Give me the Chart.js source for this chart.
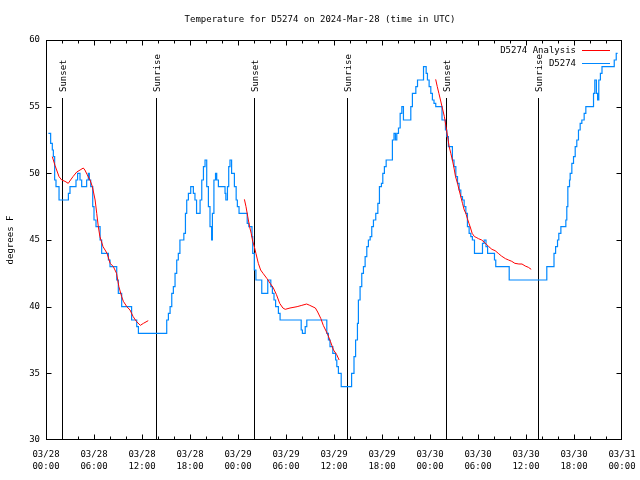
<!DOCTYPE html>
<html><head><meta charset="utf-8">
<script src="https://cdn.jsdelivr.net/npm/chart.js@4/dist/chart.umd.min.js"></script>
<style>html,body{margin:0;padding:0;background:#fff}canvas{display:block}</style>
</head><body>
<canvas id="c" width="640" height="480"></canvas>
<script>
const chartTitle = 'Temperature for D5274 on 2024-Mar-28 (time in UTC)';
const yAxisLabel = 'degrees F';
const seriesNames = ['D5274 Analysis', 'D5274'];
const seriesColors = ['#ff0000', '#0088ff'];
const xTickDates = ['03/28','03/28','03/28','03/28','03/29','03/29','03/29','03/29','03/30','03/30','03/30','03/30','03/31'];
const xTickTimes = ['00:00','06:00','12:00','18:00','00:00','06:00','12:00','18:00','00:00','06:00','12:00','18:00','00:00'];
const sunsetHours = [2.04, 26.04, 50.04];
const sunriseHours = [13.7, 37.6, 61.5];

// analysis curve (hours since 03/28 00:00 UTC), null = break
const analysisHours = [0.79,1.12,1.33,1.63,1.96,2.38,2.78,3.07,3.37,3.84,4.26,4.66,4.86,5.15,5.5,5.8,6.14,6.34,6.54,6.74,7.13,7.63,8.02,8.42,8.82,9.11,9.46,9.67,10.1,10.5,10.9,11.29,11.79,12.18,12.78,
  18.0,
  24.8,25.0,25.22,25.45,25.65,25.84,26.04,26.24,26.54,26.83,27.13,27.63,28.02,28.42,28.81,29.21,29.61,29.9,30.5,31.39,31.98,32.58,32.97,33.67,33.96,34.36,34.66,35.15,35.55,35.94,36.34,36.64,
  42.0,
  48.71,48.91,49.11,49.31,49.6,49.8,50.0,50.2,50.4,50.6,50.8,51.0,51.19,51.44,51.64,51.85,52.06,52.28,52.48,52.67,52.87,53.07,53.27,53.56,53.76,54.06,54.46,54.85,55.35,55.74,56.14,56.53,56.93,57.43,57.82,58.22,58.61,59.11,59.5,59.9,60.3,60.65];
const analysisTemps = [51.25,50.6,50.25,49.75,49.5,49.4,49.25,49.5,49.75,50.1,50.25,50.4,50.25,49.9,49.5,49.0,48.0,47.0,46.0,45.25,44.5,44.0,43.25,43.0,42.5,41.5,40.75,40.4,40.0,39.75,39.25,38.9,38.6,38.75,38.95,
  null,
  48.05,47.5,46.75,46.0,45.5,44.9,44.5,44.0,43.25,42.75,42.5,42.1,41.75,41.4,40.9,40.25,39.9,39.8,39.9,40.0,40.1,40.2,40.1,39.9,39.6,39.1,38.6,38.0,37.4,36.75,36.4,36.0,
  null,
  57.05,56.5,56.0,55.5,54.75,54.25,53.5,52.75,52.0,51.5,51.0,50.4,49.75,49.25,48.75,48.25,47.75,47.25,47.0,46.6,46.25,45.9,45.5,45.25,45.2,45.1,45.0,44.8,44.5,44.3,44.2,44.0,43.8,43.6,43.5,43.4,43.25,43.2,43.2,43.05,42.95,42.8];

// station observations
const obsHours = [0.3,0.58,0.79,0.92,1.08,1.25,1.63,2.8,3.0,3.75,3.95,4.25,4.46,5.08,5.29,5.42,5.59,5.84,6.0,6.25,6.76,6.96,7.8,8.0,8.84,9.04,9.46,10.7,11.34,11.55,
  15.09,15.3,15.51,15.72,15.92,16.13,16.34,16.54,16.74,17.23,17.43,17.59,17.8,18.09,18.42,18.62,18.82,19.26,19.47,19.68,19.88,20.09,20.3,20.5,20.7,20.8,20.99,21.19,21.34,21.55,22.38,22.48,22.68,22.84,23.0,23.2,23.55,23.77,23.92,24.13,
  25.15,25.35,25.75,25.84,26.04,26.24,26.97,27.72,28.1,28.3,28.5,28.7,29.05,29.26,31.9,32.05,32.4,32.6,35.1,35.3,35.5,35.85,36.2,36.35,36.55,36.9,
  38.2,38.5,38.7,38.93,39.05,39.26,39.47,39.68,39.89,40.1,40.3,40.52,40.72,40.93,41.22,41.48,41.68,41.93,42.1,42.3,42.52,43.3,43.5,43.68,43.85,44.06,44.27,44.48,44.68,45.6,45.8,46.23,46.44,47.19,47.52,47.68,47.89,48.1,48.3,48.5,48.72,49.5,49.93,50.1,50.3,50.8,51.0,51.23,51.44,51.64,51.85,52.06,52.27,52.48,52.68,52.89,53.1,53.3,53.56,54.56,54.77,55.0,55.2,56.06,56.22,57.9,
  62.6,63.5,63.7,63.94,64.1,64.36,64.98,65.1,65.23,65.44,65.52,65.73,65.94,66.15,66.35,66.56,66.77,66.98,67.27,67.48,68.44,68.6,68.8,68.95,69.1,69.3,69.5,71.03,71.28,71.45];
const obsTemps = [53.0,52.25,51.75,51.25,49.5,49.0,48.0,48.5,49.0,49.5,50.0,49.5,49.0,49.5,50.0,49.5,49.0,47.5,46.5,46.0,45.0,44.0,43.5,43.0,42.0,41.0,40.0,39.0,38.5,38.0,
  39.0,39.5,40.0,41.0,41.5,42.5,43.5,44.0,45.0,45.5,47.0,48.0,48.5,49.0,48.5,48.0,47.0,48.0,49.5,50.5,51.0,49.0,47.5,46.0,45.0,47.0,49.5,50.0,49.5,49.0,48.5,48.0,49.0,50.5,51.0,50.0,49.0,48.0,47.5,47.0,
  46.25,46.0,45.25,44.0,42.75,42.0,41.0,42.0,41.5,41.0,40.5,40.0,39.5,39.0,38.25,38.0,38.5,39.0,38.0,37.5,37.0,36.5,36.0,35.5,35.0,34.0,
  35.0,36.25,37.5,38.75,40.5,41.5,42.5,43.0,43.75,44.5,45.0,45.25,46.0,46.5,47.0,47.75,49.0,49.25,50.0,50.5,51.0,52.5,53.0,52.5,53.0,53.4,54.5,55.0,54.0,55.0,56.0,56.5,57.0,58.0,57.5,57.0,56.5,56.0,55.5,55.25,55.0,54.0,53.25,52.75,52.0,51.0,50.5,49.75,49.25,48.75,48.25,48.0,47.5,47.0,46.0,45.5,45.25,45.0,44.0,44.75,45.0,44.5,44.0,43.5,43.0,42.0,
  43.0,44.0,44.5,45.0,45.5,46.0,46.5,47.5,49.0,49.5,50.0,50.75,51.25,52.0,52.5,53.25,53.75,54.0,54.5,55.0,56.0,57.0,56.0,55.5,57.0,57.5,58.0,58.5,59.0,59.0];

const FONT = '"DejaVu Sans Mono", "Liberation Mono", monospace';
Chart.defaults.font.family = FONT;
Chart.defaults.font.size = 9;
Chart.defaults.color = '#000';

const overlay = {
  id: 'overlay',
  beforeDatasetsDraw(chart) {
    const {ctx, chartArea: a, scales: {x}} = chart;
    ctx.save();
    ctx.strokeStyle = '#000'; ctx.lineWidth = 1; ctx.fillStyle = '#000';
    ctx.font = '9px ' + FONT;
    const sun = (h, label) => {
      const px = Math.round(x.getPixelForValue(h)) + 0.5;
      ctx.beginPath(); ctx.moveTo(px, a.top + 58); ctx.lineTo(px, a.bottom); ctx.stroke();
      ctx.save(); ctx.translate(px + 1.5, a.top + 52); ctx.rotate(-Math.PI / 2);
      ctx.textAlign = 'left'; ctx.textBaseline = 'middle'; ctx.fillText(label, 0, 0); ctx.restore();
    };
    sunsetHours.forEach(h => sun(h, 'Sunset'));
    sunriseHours.forEach(h => sun(h, 'Sunrise'));
    ctx.restore();
  },
  afterDatasetsDraw(chart) {
    const {ctx, chartArea: a, scales: {x, y}} = chart;
    ctx.save();
    ctx.strokeStyle = '#000'; ctx.lineWidth = 1; ctx.fillStyle = '#000';
    const L = Math.round(a.left) + 0.5, R = Math.round(a.right) - 0.5, T = Math.round(a.top) + 0.5, B = Math.round(a.bottom) - 0.5;
    ctx.strokeRect(L, T, R - L, B - T);
    ctx.beginPath();
    for (let h = x.min; h <= x.max + 1e-6; h += 2) {
      const px = Math.round(x.getPixelForValue(h)) + 0.5;
      if (px <= L + 1 || px >= R - 1) continue;
      const len = (Math.round(h) % 6 === 0) ? 5 : 3;
      ctx.moveTo(px, B); ctx.lineTo(px, B - len);
      ctx.moveTo(px, T); ctx.lineTo(px, T + len);
    }
    for (let v = y.min; v <= y.max + 1e-6; v += 5) {
      const py = Math.round(y.getPixelForValue(v)) + 0.5;
      if (py <= T + 1 || py >= B - 1) continue;
      ctx.moveTo(L, py); ctx.lineTo(L + 5, py);
      ctx.moveTo(R, py); ctx.lineTo(R - 5, py);
    }
    ctx.stroke();
    ctx.font = '9px ' + FONT;
    ctx.textAlign = 'center'; ctx.textBaseline = 'middle';
    ctx.fillText(chartTitle, chart.width / 2, 20);
    ctx.save(); ctx.translate(11, (a.top + a.bottom) / 2); ctx.rotate(-Math.PI / 2);
    ctx.fillText(yAxisLabel, 0, 0); ctx.restore();
    // legend
    ctx.textAlign = 'right';
    chart.data.datasets.forEach((ds, i) => {
      const ly = a.top + 10 + i * 13 + 0.5;
      ctx.fillStyle = '#000';
      ctx.fillText(ds.label, a.right - 46, ly);
      ctx.strokeStyle = ds.borderColor; ctx.lineWidth = 1;
      ctx.beginPath(); ctx.moveTo(a.right - 40, ly); ctx.lineTo(a.right - 12, ly); ctx.stroke();
    });
    ctx.restore();
  }
};

new Chart(document.getElementById('c'), {
  type: 'line',
  data: {
    datasets: [
      { label: seriesNames[0], data: analysisHours.map((h, i) => ({x: h, y: analysisTemps[i]})),
        borderColor: seriesColors[0], borderWidth: 1, pointRadius: 0, spanGaps: false, order: 0, tension: 0 },
      { label: seriesNames[1], data: obsHours.map((h, i) => ({x: h, y: obsTemps[i]})),
        borderColor: seriesColors[1], borderWidth: 1.2, pointRadius: 0, stepped: 'before', order: 1 }
    ]
  },
  options: {
    responsive: false, animation: false, events: [],
    layout: { padding: { left: 0, top: 40, right: 18, bottom: 0 } },
    plugins: { legend: { display: false }, tooltip: { enabled: false }, title: { display: false } },
    scales: {
      x: {
        type: 'linear', min: 0, max: 72,
        grid: { display: false, drawTicks: false }, border: { display: false },
        ticks: { stepSize: 6, autoSkip: false, maxRotation: 0, padding: 8,
          font: { size: 9, lineHeight: 1.4 },
          callback: (v) => { const i = Math.round(v / 6); return [xTickDates[i], xTickTimes[i]]; } },
        afterFit: (s) => { s.height = 40; s.paddingLeft = 0; s.paddingRight = 0; }
      },
      y: {
        min: 30, max: 60,
        grid: { display: false, drawTicks: false }, border: { display: false },
        ticks: { stepSize: 5, padding: 6, font: { size: 9 } },
        afterFit: (s) => { s.width = 46; s.paddingTop = 0; s.paddingBottom = 0; }
      }
    }
  },
  plugins: [overlay]
});
</script>
</body></html>
